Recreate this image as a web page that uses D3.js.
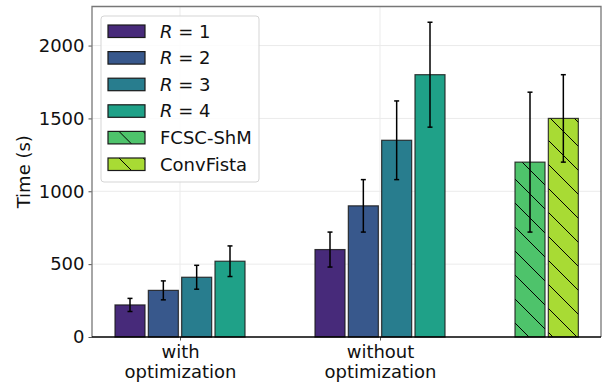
<!DOCTYPE html>
<html>
<head>
<meta charset="utf-8">
<script src="https://cdn.jsdelivr.net/npm/d3@7"></script>
<style>
  body { margin: 0; background: #fff; }
  svg { font-family: "DejaVu Sans", sans-serif; }
</style>
</head>
<body>
<div id="chart"></div>
<script>
// data
const groupLabels = [["with", "optimization"], ["without", "optimization"]];
const rValues = [1, 2, 3, 4];
const withOpt = [220, 320, 410, 520];
const withOptErr = [45, 65, 82, 105];
const withoutOpt = [600, 900, 1350, 1800];
const withoutOptErr = [120, 180, 270, 360];
const baselineNames = ["FCSC-ShM", "ConvFista"];
const baselineTime = [1200, 1500];
const baselineErr = [480, 300];
const yTicks = [0, 500, 1000, 1500, 2000];

const colors = [0.12, 0.27, 0.42, 0.57, 0.72, 0.87].map(d3.interpolateViridis);

const W = 613, H = 386;
const margin = {top: 6.5, right: 12, bottom: 49, left: 92};
const fs = 18;

const x = d3.scaleLinear().domain([-0.44, 2.105]).range([margin.left, W - margin.right]);
const y = d3.scaleLinear().domain([0, 2268]).range([H - margin.bottom, margin.top]);

const svg = d3.select("#chart").append("svg")
    .attr("width", W)
    .attr("height", H);

const defs = svg.append("defs");
colors.slice(4).forEach(function(c, i) {
  const p = defs.append("pattern")
      .attr("id", "hatch" + i)
      .attr("patternUnits", "userSpaceOnUse")
      .attr("width", 24).attr("height", 24);
  p.append("rect").attr("width", 24).attr("height", 24).attr("fill", c);
  p.append("path")
      .attr("d", "M0,0L24,24M-6,18L6,30M18,-6L30,6")
      .attr("stroke", "#000").attr("stroke-width", 1);
});

// grid
const grid = svg.append("g").attr("stroke", "#ebebeb").attr("stroke-width", 1);
yTicks.slice(1).forEach(function(t) {
  grid.append("line").attr("x1", x.range()[0]).attr("x2", x.range()[1])
      .attr("y1", y(t)).attr("y2", y(t));
});
[0, 1].forEach(function(g) {
  grid.append("line").attr("x1", x(g)).attr("x2", x(g))
      .attr("y1", y.range()[0]).attr("y2", y.range()[1]);
});

const barW = 0.15, step = 1 / 6;
const bars = [];
[withOpt, withoutOpt].forEach(function(vals, g) {
  vals.forEach(function(v, i) {
    bars.push({pos: g + (i - 1.5) * step, v: v, err: (g ? withoutOptErr : withOptErr)[i], fill: colors[i]});
  });
});
baselineTime.forEach(function(v, i) {
  bars.push({pos: 2 + (i - 1.5) * step, v: v, err: baselineErr[i], fill: "url(#hatch" + i + ")"});
});

svg.selectAll(".bar")
    .data(bars)
  .enter().append("rect")
    .attr("class", "bar")
    .attr("x", function(d) { return x(d.pos - barW / 2); })
    .attr("width", function(d) { return x(d.pos + barW / 2) - x(d.pos - barW / 2); })
    .attr("y", function(d) { return y(d.v); })
    .attr("height", function(d) { return y(0) - y(d.v); })
    .attr("fill", function(d) { return d.fill; })
    .attr("stroke", "#1a1a1a")
    .attr("stroke-opacity", 0.85)
    .attr("stroke-width", 1.2);

const eb = svg.selectAll(".err").data(bars).enter().append("g")
    .attr("stroke", "#000").attr("stroke-width", 1.5);
eb.append("line")
    .attr("x1", function(d) { return x(d.pos); })
    .attr("x2", function(d) { return x(d.pos); })
    .attr("y1", function(d) { return y(d.v - d.err); })
    .attr("y2", function(d) { return y(d.v + d.err); });
[-1, 1].forEach(function(s) {
  eb.append("line")
      .attr("x1", function(d) { return x(d.pos) - 2.5; })
      .attr("x2", function(d) { return x(d.pos) + 2.5; })
      .attr("y1", function(d) { return y(d.v + s * d.err); })
      .attr("y2", function(d) { return y(d.v + s * d.err); });
});

// axes
const yAxis = svg.append("g")
    .attr("transform", "translate(" + margin.left + ",0)")
    .call(d3.axisLeft(y).tickValues(yTicks).tickFormat(d3.format("d")).tickSize(3.5).tickPadding(4));
yAxis.select(".domain").remove();
yAxis.selectAll(".tick line").attr("stroke", "#555");
yAxis.selectAll("text").attr("font-size", fs).attr("fill", "#111").attr("font-family", "DejaVu Sans");

const xAxis = svg.append("g")
    .attr("transform", "translate(0," + y(0) + ")")
    .call(d3.axisBottom(x).tickValues([0, 1]).tickSize(3.5).tickFormat(""));
xAxis.select(".domain").remove();
xAxis.selectAll(".tick line").attr("stroke", "#555");
xAxis.selectAll(".tick").each(function(d) {
  const t = d3.select(this).append("text")
      .attr("fill", "#111").attr("font-size", fs).attr("text-anchor", "middle")
      .attr("font-family", "DejaVu Sans");
  groupLabels[d].forEach(function(s, k) {
    t.append("tspan").attr("x", 0).attr("y", 21 + k * 19.5).text(s);
  });
});

// spines
const sp = svg.append("g").attr("fill", "none");
sp.append("path")
    .attr("d", "M" + x.range()[0] + "," + y.range()[0] + "V" + y.range()[1] + "H" + x.range()[1] + "V" + y.range()[0])
    .attr("stroke", "#777").attr("stroke-width", 1.3);
sp.append("line")
    .attr("x1", x.range()[0]).attr("x2", x.range()[1])
    .attr("y1", y(0)).attr("y2", y(0))
    .attr("stroke", "#000").attr("stroke-width", 1.3);

svg.append("text")
    .attr("transform", "translate(30," + ((y.range()[0] + y.range()[1]) / 2) + ") rotate(-90)")
    .attr("text-anchor", "middle")
    .attr("font-size", fs).attr("fill", "#111")
    .text("Time (s)");

// legend
const legend = svg.append("g").attr("transform", "translate(101,16)");
legend.append("rect")
    .attr("width", 158).attr("height", 166).attr("rx", 3)
    .attr("fill", "#fff").attr("fill-opacity", 0.85)
    .attr("stroke", "#d5d5d5");
const legendItems = rValues.map(function(r, i) { return {r: r, fill: colors[i]}; })
  .concat(baselineNames.map(function(n, i) { return {name: n, fill: "url(#hatch" + i + ")"}; }));
legendItems.forEach(function(d, i) {
  const cy = 15 + i * 26.6;
  const g = legend.append("g").attr("transform", "translate(0," + cy + ")");
  g.append("rect").attr("x", 7).attr("y", -6).attr("width", 37).attr("height", 12.5)
      .attr("fill", d.fill).attr("stroke", "#1a1a1a").attr("stroke-width", 1.2);
  const t = g.append("text").attr("x", 59).attr("y", 6.5).attr("font-size", fs).attr("fill", "#111");
  if (d.name) {
    t.text(d.name);
  } else {
    t.append("tspan").attr("font-style", "italic").text("R");
    t.append("tspan").text(" = " + d.r);
  }
});
</script>
</body>
</html>
